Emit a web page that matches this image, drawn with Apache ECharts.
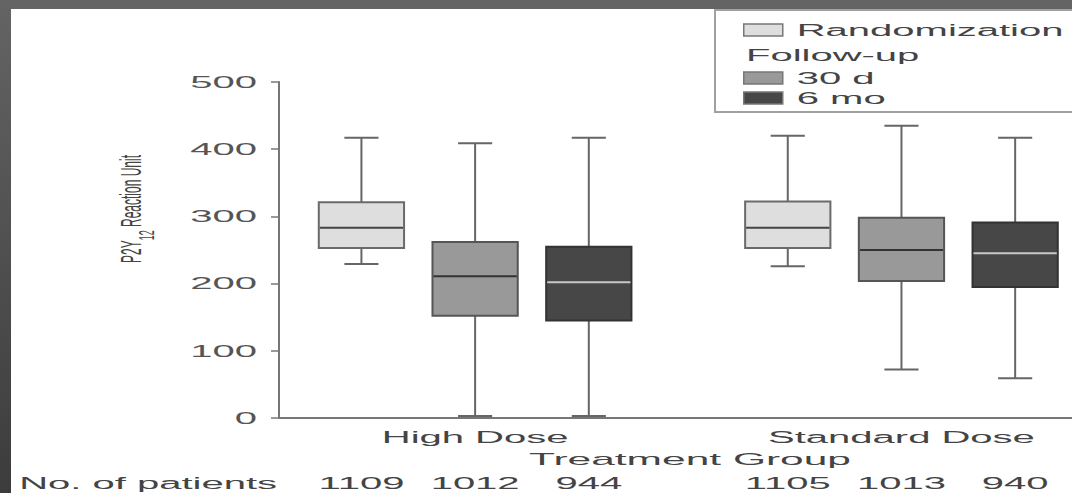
<!DOCTYPE html>
<html>
<head>
<meta charset="utf-8">
<title>P2Y12 Reaction Unit by Treatment Group</title>
<script src="https://cdn.jsdelivr.net/npm/echarts@6.0.0/dist/echarts.min.js"></script>
<style>
    html, body {
        margin: 0;
        padding: 0;
        width: 1072px;
        height: 493px;
        overflow: hidden;
        background: linear-gradient(#646464, #3c3c3c);
    }
    #paper {
        position: absolute;
        left: 11px;
        top: 9px;
        right: 0;
        bottom: 0;
        background: #fff;
    }
    #chart {
        position: absolute;
        left: 0;
        top: 0;
        width: 1072px;
        height: 493px;
    }
</style>
</head>
<body>
<div id="paper"></div>
<div id="chart"></div>
<script>
var categories = ['High Dose', 'Standard Dose'];
var seriesNames = ['Randomization', '30 d', '6 mo'];
// [min, Q1, median, Q3, max] for each treatment group
var randomization = [[229, 253, 283, 321, 417], [226, 253, 283, 322, 420]];
var followUp30d = [[3, 152, 211, 262, 409], [72, 204, 250, 298, 435]];
var followUp6mo = [[3, 145, 202, 255, 417], [59, 195, 245, 291, 417]];
var patients = [[1109, 1012, 944], [1105, 1013, 940]];
var yMin = 0, yMax = 500, yStep = 100;

var stats = [randomization, followUp30d, followUp6mo];

var FONT = 'Liberation Sans';
var TEXT = '#444';
var AXIS = '#777';
var WHISKER = '#666';
var BOX_W = 1.5;     // box width in x units
var CAP_W = 0.6;     // whisker cap width in x units
var X_MIN = 0.55, X_MAX = 14.5;
var TEXT_STRETCH = 2.5;   // the original figure is stretched sideways
var NAME_STRETCH = 2.4;

var boxStyles = [
    {fill: '#dedede', border: '#6a6a6a', median: '#444'},
    {fill: '#999999', border: '#555', median: '#333'},
    {fill: '#474747', border: '#333', median: '#c8c8c8'}
];

/**
 * @description x position of a box: three boxes per group, gap between groups
 */
function slotX(g, s) {
    return g * 7.5 + s * 2 + 2;
}

function groupX(g) {
    return g * 7.5 + 4;
}

function nearest(list, v) {
    var best = 0;
    for (var i = 1; i < list.length; i++) {
        if (Math.abs(list[i] - v) < Math.abs(list[best] - v)) best = i;
    }
    return best;
}

var groupCenters = categories.map(function (c, g) { return groupX(g); });
var slotList = [];
var countList = [];
for (var g = 0; g < categories.length; g++) {
    for (var s = 0; s < seriesNames.length; s++) {
        slotList.push(slotX(g, s));
        countList.push(patients[g][s]);
    }
}

function renderBox(params, api) {
    var st = boxStyles[params.seriesIndex];
    var x = api.value(0);
    var lo = api.coord([x, api.value(1)]);
    var q1 = api.coord([x, api.value(2)]);
    var md = api.coord([x, api.value(3)]);
    var q3 = api.coord([x, api.value(4)]);
    var hi = api.coord([x, api.value(5)]);
    var half = api.size([BOX_W, 0])[0] / 2;
    var cap = api.size([CAP_W, 0])[0] / 2;
    var line = function (x1, y1, x2, y2, color) {
        return {type: 'line', shape: {x1: x1, y1: y1, x2: x2, y2: y2}, style: {stroke: color, lineWidth: 2}};
    };
    return {
        type: 'group',
        children: [
            line(lo[0], lo[1], hi[0], hi[1], WHISKER),
            line(lo[0] - cap, lo[1], lo[0] + cap, lo[1], WHISKER),
            line(hi[0] - cap, hi[1], hi[0] + cap, hi[1], WHISKER),
            {
                type: 'rect',
                shape: {x: q3[0] - half, y: q3[1], width: half * 2, height: q1[1] - q3[1]},
                style: {fill: st.fill, stroke: st.border, lineWidth: 2}
            },
            line(md[0] - half + 1, md[1], md[0] + half - 1, md[1], st.median)
        ]
    };
}

function legendItem(s) {
    return {
        name: seriesNames[s],
        itemStyle: {color: boxStyles[s].fill, borderColor: '#777', borderWidth: 1.5}
    };
}

var legendText = {fontFamily: FONT, fontSize: 16, color: TEXT, padding: [0, 0, 0, 9]};

var option = {
    backgroundColor: 'transparent',
    animation: false,
    grid: {left: 279, right: 0, top: 82, bottom: 75, containLabel: false, outerBoundsMode: 'none'},
    legend: [{
        data: [legendItem(0)],
        left: 743,
        top: 22,
        padding: 0,
        icon: 'rect',
        itemWidth: 39,
        itemHeight: 12,
        selectedMode: false,
        textStyle: legendText
    }, {
        data: [legendItem(1), legendItem(2)],
        orient: 'vertical',
        left: 743,
        top: 70,
        padding: 0,
        itemGap: 4,
        icon: 'rect',
        itemWidth: 39,
        itemHeight: 12,
        selectedMode: false,
        textStyle: legendText
    }],
    xAxis: [{
        type: 'value',
        min: X_MIN,
        max: X_MAX,
        splitLine: {show: false},
        axisTick: {show: false},
        axisLine: {show: true, onZero: false, lineStyle: {color: AXIS, width: 2}},
        axisLabel: {
            customValues: groupCenters,
            formatter: function (v) { return categories[nearest(groupCenters, v)]; },
            margin: 11,
            fontFamily: FONT,
            fontSize: 16,
            color: TEXT
        }
    }, {
        type: 'value',
        min: X_MIN,
        max: X_MAX,
        position: 'bottom',
        offset: 57,
        splitLine: {show: false},
        axisTick: {show: false},
        axisLine: {show: false},
        axisLabel: {
            customValues: slotList,
            formatter: function (v) { return String(countList[nearest(slotList, v)]); },
            margin: 0,
            fontFamily: FONT,
            fontSize: 16,
            color: TEXT
        }
    }],
    yAxis: {
        type: 'value',
        min: yMin,
        max: yMax,
        interval: yStep,
        splitLine: {show: false},
        axisLine: {show: true, onZero: false, lineStyle: {color: AXIS, width: 2}},
        axisTick: {show: true, length: 8, lineStyle: {color: AXIS, width: 1.5}},
        axisLabel: {margin: 22, fontFamily: FONT, fontSize: 16, color: '#555'}
    },
    graphic: [{
        type: 'rect',
        shape: {x: 715, y: 10, width: 400, height: 102},
        style: {fill: 'none', stroke: '#a0a0a0', lineWidth: 2}
    }, {
        type: 'text',
        x: 746,
        y: 55,
        style: {text: 'Follow-up', fontFamily: FONT, fontSize: 16, fill: TEXT, verticalAlign: 'middle'}
    }, {
        type: 'text',
        x: 690,
        y: 459,
        style: {text: 'Treatment Group', fontFamily: FONT, fontSize: 17, fill: TEXT, textAlign: 'center', verticalAlign: 'middle'}
    }, {
        type: 'text',
        x: 277,
        y: 483,
        style: {text: 'No. of patients', fontFamily: FONT, fontSize: 16, fill: TEXT, textAlign: 'right', verticalAlign: 'middle'}
    }, {
        type: 'text',
        x: 131,
        y: 209,
        rotation: Math.PI / 2,
        style: {
            text: 'P2Y{sub|12} Reaction Unit',
            fontFamily: FONT,
            fontSize: 12,
            lineHeight: 14,
            fill: TEXT,
            textAlign: 'center',
            verticalAlign: 'middle',
            rich: {sub: {fontFamily: FONT, fontSize: 9, lineHeight: 22, verticalAlign: 'bottom', fill: TEXT}}
        }
    }],
    series: seriesNames.map(function (name, s) {
        return {
            name: name,
            type: 'custom',
            renderItem: renderBox,
            encode: {x: 0, y: [1, 2, 3, 4, 5]},
            itemStyle: {color: boxStyles[s].fill},
            data: stats[s].map(function (v, g) { return [slotX(g, s)].concat(v); })
        };
    })
};

var chartDom = document.getElementById('chart');
var myChart = echarts.init(chartDom, null, {renderer: 'svg'});

/**
 * @description widen every text sideways around its anchor, like the source figure
 */
function stretchTexts() {
    var texts = chartDom.querySelectorAll('svg text');
    for (var i = 0; i < texts.length; i++) {
        var el = texts[i];
        if (el.getAttribute('data-stretched')) continue;
        var x = parseFloat(el.getAttribute('x')) || 0;
        var y = parseFloat(el.getAttribute('y')) || 0;
        var ax = x, k = TEXT_STRETCH;
        var t = el.transform.baseVal.consolidate();
        if (t) {
            var m = t.matrix;
            if (Math.abs(m.b) > 0.5) {
                k = NAME_STRETCH;
                ax = m.e;
            } else {
                ax = m.a * x + m.c * y + m.e;
            }
        }
        var old = el.getAttribute('transform') || '';
        el.setAttribute('transform', 'translate(' + ax + ' 0) scale(' + k + ' 1) translate(' + (-ax) + ' 0) ' + old);
        el.setAttribute('data-stretched', '1');
    }
}

myChart.on('finished', stretchTexts);
myChart.setOption(option);
stretchTexts();
setTimeout(stretchTexts, 50);
</script>
</body>
</html>
